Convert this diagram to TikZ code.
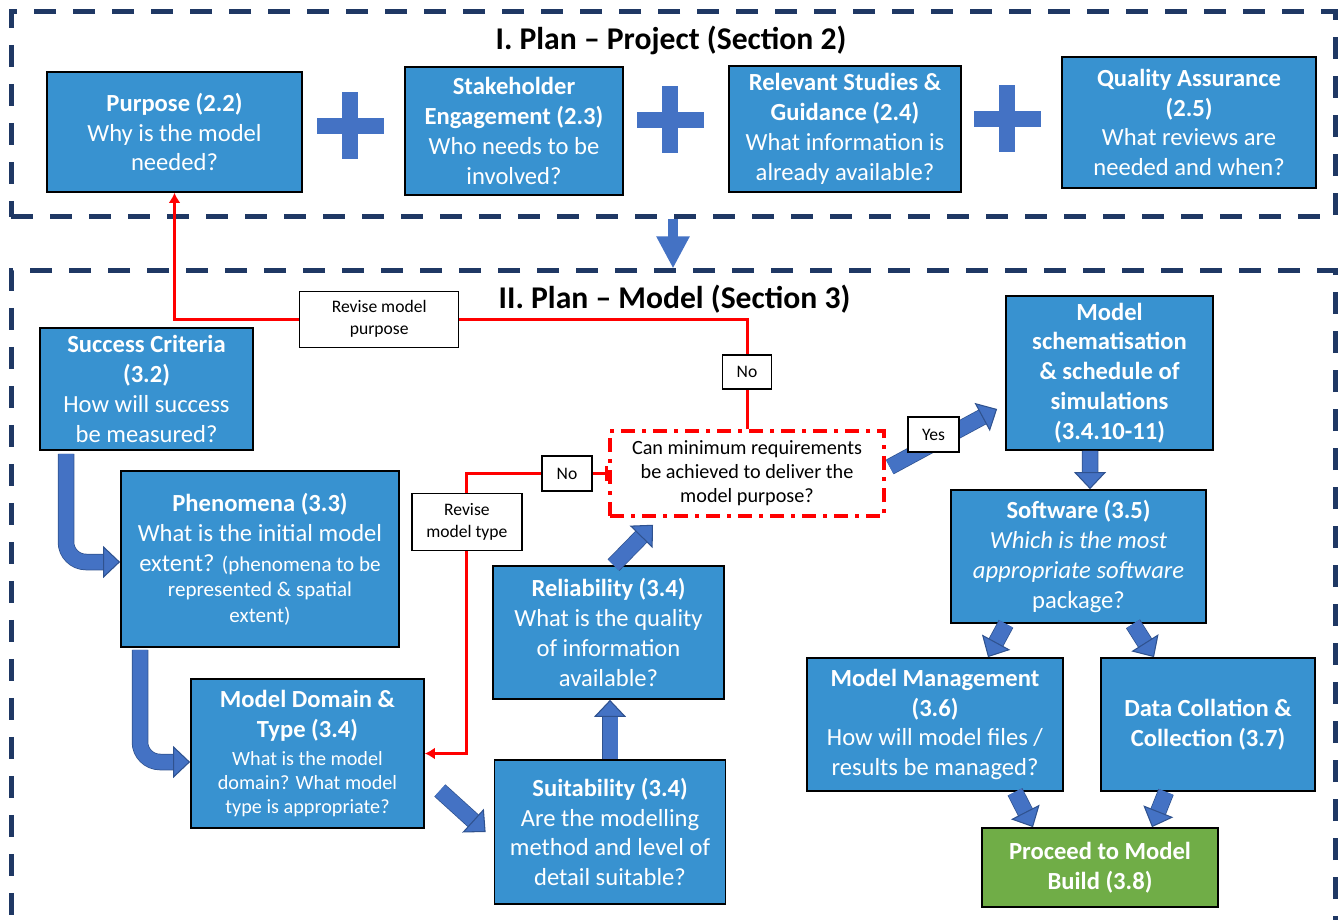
\documentclass[tikz,border=0pt]{standalone}
\usepackage{fontspec}
\setmainfont{Carlito}
\usetikzlibrary{arrows.meta}
\definecolor{boxblue}{RGB}{56,146,208}
\definecolor{arrowblue}{RGB}{68,114,196}
\definecolor{arrowedge}{RGB}{47,82,143}
\definecolor{framenavy}{RGB}{31,56,100}
\definecolor{buildgreen}{RGB}{112,173,71}

\begin{document}
\begin{tikzpicture}[
      box/.style={draw=black,line width=1pt,fill=boxblue,text=white,align=center,inner sep=2pt,
        font=\fontsize{14}{17}\selectfont},
      frame/.style={draw=framenavy,line width=1mm,dash pattern=on 4.4mm off 3.4mm,inner sep=0pt},
      title/.style={font=\fontsize{18}{22}\selectfont\bfseries},
      query/.style={draw=red,line width=0.7mm,dash pattern=on 2.8mm off 1.4mm on 0.8mm off 1.4mm,
        fill=white,align=center,font=\fontsize{11.5}{13.6}\selectfont},
      lbl/.style={draw=black,line width=0.8pt,fill=white,text=black,align=center,inner sep=1pt,
        font=\fontsize{10}{12.5}\selectfont},
      flow/.style={draw=arrowblue,line width=3mm,
        -{Triangle[length=3.4mm,width=6.4mm,line width=0.6pt,color=arrowedge,fill=arrowblue]},
        preaction={draw=arrowedge,line width=3.3mm,-,shorten >=3.3mm}},
      link/.style={draw=arrowblue,line width=2mm,-{Triangle[length=6.4mm,width=6.2mm]}},
      fb/.style={draw=red,line width=0.6mm}]
    \clip (0,0) rectangle (26.8,-18.4);
    % the two stages, drawn first so they sit behind
    \node[frame,minimum width=26.48cm,minimum height=4.1cm] (proj) at (13.46,-2.29) {};
    \node[frame,minimum width=26.48cm,minimum height=13.38cm] (mod) at (13.46,-12.11) {};
    \node[title] (t1) at (13.42,-0.8) {I. Plan – Project (Section 2)};
    \node[title] (t2) at (13.49,-5.98) {II. Plan – Model (Section 3)};
    \draw[link] (proj.south) -- (mod.north);
    % stage I: four parts joined by plus signs
    \node[box,minimum width=5.1cm,minimum height=2.4cm] (purpose) at (3.49,-2.64)
      {\textbf{Purpose (2.2)}\\Why is the model\\needed?};
    \node[box,minimum width=4.36cm,minimum height=2.56cm] (stake) at (10.28,-2.62)
      {\textbf{Stakeholder}\\\textbf{Engagement (2.3)}\\Who needs to be\\involved?};
    \node[box,minimum width=4.64cm,minimum height=2.52cm] (studies) at (16.9,-2.58)
      {\textbf{Relevant Studies \&}\\\textbf{Guidance (2.4)}\\What information is\\already available?};
    \node[box,minimum width=5.08cm,minimum height=2.62cm] (qa) at (23.78,-2.45)
      {\textbf{Quality Assurance}\\\textbf{(2.5)}\\What reviews are\\needed and when?};
    \foreach \x/\y in {7/-2.52, 13.4/-2.4, 20.14/-2.38}{
      \fill[arrowblue] ({\x-0.67},{\y-0.16}) rectangle ({\x+0.67},{\y+0.16});
      \fill[arrowblue] ({\x-0.16},{\y-0.67}) rectangle ({\x+0.16},{\y+0.67});}
    % stage II, left column
    \node[box,minimum width=4.26cm,minimum height=2.44cm] (success) at (2.93,-7.78)
      {\textbf{Success Criteria}\\\textbf{(3.2)}\\How will success\\be measured?};
    \node[box,minimum width=5.56cm,minimum height=3.52cm] (phen) at (5.2,-11.18)
      {\textbf{Phenomena (3.3)}\\What is the initial model\\extent? {\fontsize{12}{14}\selectfont(phenomena to be}\\[-2.5pt]
       {\fontsize{12}{14}\selectfont represented \& spatial}\\[-2.5pt]{\fontsize{12}{14}\selectfont extent)}};
    \node[box,minimum width=4.66cm,minimum height=2.98cm] (domain) at (6.15,-15.07)
      {\textbf{Model Domain \&}\\\textbf{Type (3.4)}\\[-1pt]{\fontsize{11.5}{14}\selectfont What is the model}\\[-3.5pt]
       {\fontsize{11.5}{14}\selectfont domain? What model}\\[-3.5pt]{\fontsize{11.5}{14}\selectfont type is appropriate?}};
    \node[box,minimum width=4.62cm,minimum height=2.66cm] (reli) at (12.17,-12.65)
      {\textbf{Reliability (3.4)}\\What is the quality\\of information\\available?};
    \node[box,minimum width=4.62cm,minimum height=2.88cm] (suit) at (12.2,-16.64)
      {\textbf{Suitability (3.4)}\\Are the modelling\\method and level of\\detail suitable?};
    \node[query,minimum width=5.48cm,minimum height=1.7cm] (dec) at (14.94,-9.47)
      {Can minimum requirements\\be achieved to deliver the\\model purpose?};
    % stage II, right column
    \node[box,minimum width=4.14cm,minimum height=3.08cm] (schem) at (22.19,-7.46)
      {\textbf{Model}\\\textbf{schematisation}\\\textbf{\& schedule of}\\\textbf{simulations}\\\textbf{(3.4.10-11)}};
    \node[box,minimum width=5.1cm,minimum height=2.66cm] (soft) at (21.57,-11.13)
      {\textbf{Software (3.5)}\\\textit{Which is the most}\\\textit{appropriate software}\\package?};
    \node[box,minimum width=5.12cm,minimum height=2.66cm] (mm) at (18.7,-14.49)
      {\textbf{Model Management}\\\textbf{(3.6)}\\How will model files /\\results be managed?};
    \node[box,minimum width=4.28cm,minimum height=2.66cm] (dc) at (24.16,-14.49)
      {\textbf{Data Collation \&}\\\textbf{Collection (3.7)}};
    \node[box,fill=buildgreen,minimum width=4.72cm,minimum height=1.58cm] (build) at (22.0,-17.35)
      {\textbf{Proceed to Model}\\\textbf{Build (3.8)}};
    % main flow
    \draw[flow,rounded corners=0.4cm] ([shift={(-1.61,-0.06)}]success.south) |- ([yshift=-0.06cm]phen.west);
    \draw[flow,rounded corners=0.4cm] ([shift={(-2.4,-0.04)}]phen.south) |- ([yshift=-0.17cm]domain.west);
    \draw[flow] ([shift={(0.3,-0.74)}]domain.east) -- ([xshift=-0.16cm]suit.west);
    \draw[flow] (suit.north) -- (suit.north |- reli.south);
    \draw[flow] ([xshift=0.1cm]reli.north) -- ([shift={(-1.88,-0.14)}]dec.south);
    \draw[flow] ([shift={(0.08,0.13)}]dec.east) -- ([shift={(-0.16,-0.72)}]schem.west);
    \node[lbl,minimum width=1.02cm,minimum height=0.7cm] (yes) at (18.67,-8.69) {Yes};
    \draw[flow] ([xshift=-0.39cm]schem.south) -- ([xshift=0.23cm]soft.north);
    \draw[flow] ([xshift=-1.45cm]soft.south) -- ([xshift=1.06cm]mm.north);
    \draw[flow] ([xshift=1.09cm]soft.south) -- ([xshift=-1.08cm]dc.north);
    \draw[flow] ([xshift=1.6cm]mm.south) -- ([xshift=-1.34cm]build.north);
    \draw[flow] ([xshift=-0.84cm]dc.south) -- ([xshift=1.04cm]build.north);
    % feedback when the requirements cannot be met
    \draw[fb,-{Latex[length=2mm,width=2.4mm]}] (dec.north)
      -- node[lbl,pos=0.52,minimum width=0.98cm,minimum height=0.68cm] {No} ++(0,2.2) coordinate (turn)
      -- node[lbl,pos=0.6425,minimum width=3.18cm,minimum height=1.12cm] {Revise model\\purpose} (turn -| purpose.south)
      -- (purpose.south);
    \draw[fb,{Bar[width=3mm]}-{Latex[length=2mm,width=2.4mm]}] (dec.west)
      -| node[lbl,pos=0.146,minimum width=1cm,minimum height=0.7cm] {No}
         node[lbl,pos=0.587,minimum width=2.2cm,minimum height=1.14cm] {Revise\\model type} ([xshift=0.84cm]domain.east)
      -- (domain.east);
  \end{tikzpicture}
\end{document}
